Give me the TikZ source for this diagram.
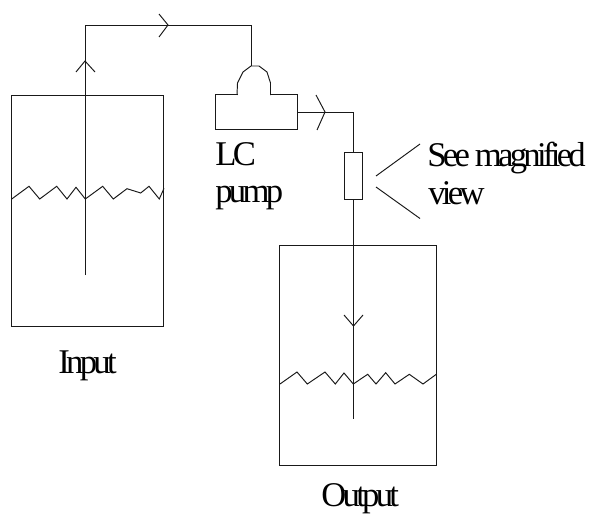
\documentclass[tikz,border=0pt]{standalone}
\usepackage{fontspec}
\setmainfont[LetterSpace=-10.7]{Liberation Serif}
\begin{document}
\begin{tikzpicture}[x=0.75pt,y=-0.75pt,
  ln/.style={line width=0.72pt,draw=black!90,line join=miter},
  tank/.style={ln,draw,inner sep=0pt},
  lbl/.style={anchor=base west,inner sep=0pt,font=\fontsize{26}{28}\selectfont,text=black}]
\useasboundingbox (0,0) rectangle (592,517);
% tanks and boxes
\node[tank,minimum width=114.4pt,minimum height=173.6pt] (input) at (87.5,210.75) {};
\node[tank,minimum width=117.4pt,minimum height=164.6pt] (output) at (357.75,355.25) {};
\node[tank,minimum width=62.2pt,minimum height=26pt] (pump) at (256.5,112.3) {};
\node[tank,minimum width=14.2pt,minimum height=34.9pt] (filter) at (353.5,175.75) {};
% named points
\coordinate (inEnd) at (85,275);
\coordinate (corner1) at (85,25);
\coordinate (corner2) at (251,25);
\coordinate (domeTop) at (251,66);
\coordinate (domeL) at (237,95);
\coordinate (domeR) at (270.5,95);
\coordinate (corner3) at (353.5,112);
\coordinate (outEnd) at (353.5,419);
% pipes
\draw[ln] (inEnd) -- (corner1) -- (corner2) -- (domeTop);
\draw[ln] (pump.east |- corner3) -- (corner3) -- (filter.north);
\draw[ln] (filter.south) -- (outEnd);
% pump dome
\draw[white,line width=1.4pt] (238,95) -- (270,95);
\draw[ln] (domeL) -- (237.5,83) -- (243,72) -- (251,66) -- (259,66) -- (267,72) -- (270.5,83) -- (domeR);
% arrowheads
\draw[ln] (76,72) -- (85,61) -- (95,72);
\draw[ln] (159,14) -- (168,25) -- (159,37);
\draw[ln] (316,95) -- (325,112) -- (317,130);
\draw[ln] (344,315) -- (353.5,326) -- (363,315);
% liquid levels
\draw[ln] (11.7,199) -- (29,186.3) -- (39.7,199) -- (56.7,186.3) -- (67,199) -- (76,187.3) -- (85.3,199) -- (102.7,186.3) -- (113.3,199) -- (127,188.7) -- (140.7,193) -- (149,186.3) -- (159.3,199) -- (164,188.3);
\draw[ln] (280,384) -- (297,372) -- (307.3,384) -- (325,372) -- (335.3,384) -- (344,373) -- (353.3,384) -- (367.7,374.3) -- (376,384) -- (385.7,372.7) -- (395,384) -- (409.3,374.3) -- (423,384) -- (436.3,374.3);
% callout
\coordinate (c1a) at (376,176); \coordinate (c1b) at (420,144);
\coordinate (c2a) at (376,187); \coordinate (c2b) at (420,218.5);
\draw[ln] (c1a) -- (c1b);
\draw[ln] (c2a) -- (c2b);
% labels
\node[lbl] (lc) at (215,165) {LC};
\node[lbl] (pumplabel) at (215,202) {pump};
\node[lbl] (see) at (427,166) {See magnified};
\node[lbl] (view) at (428,204) {view};
\node[lbl] (inl) at (58,373) {Input};
\node[lbl] (outl) at (321,506) {Output};
\end{tikzpicture}
\end{document}
